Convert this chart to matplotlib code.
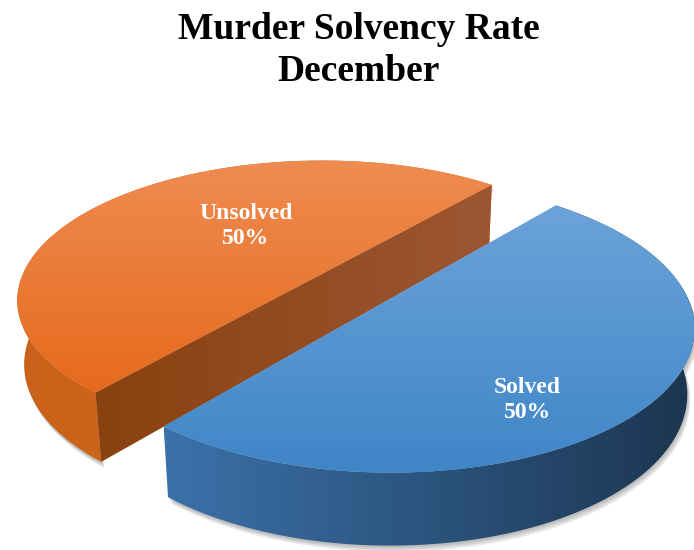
import numpy as np
import matplotlib
matplotlib.use("Agg")
import matplotlib.pyplot as plt
from matplotlib.patches import Polygon, PathPatch
from matplotlib.path import Path
from matplotlib.colors import LinearSegmentedColormap

labels = ["Solved", "Unsolved"]
values = [50, 50]
title = "Murder Solvency Rate\nDecember"

# (light, dark) pairs for top face, outer side and cut face of each slice
top_colors = [("#6CA3DA", "#3F86C7"), ("#EF8C52", "#E66A1C")]
side_colors = [("#3B72AA", "#1C3550"), ("#C9621A", "#E06B1E")]
cut_colors = [("#2B5A8A", "#1E3A5A"), ("#8A4110", "#9C5632")]
label_r = [0.74, 0.48]
label_turn = np.radians(-16)

# camera for the 3-D pie (pixel space)
cx, cy = 350.6, 288.8
scale = 300.3
elev = 0.478
dist = 5.456
start = 0.868 + np.pi
explode = 0.145
thick = 0.245
serif = ["Liberation Serif", "DejaVu Serif"]


def project(X, Y, Z):
    X, Y, Z = np.atleast_1d(X, Y, Z)
    up = Y*np.sin(elev) + Z*np.cos(elev)
    depth = dist + Y*np.cos(elev) - Z*np.sin(elev)
    return np.column_stack([cx + scale*dist*X/depth, cy - scale*dist*up/depth])


def ccw(p):
    # same winding for every piece so shared edges leave no seam
    x, y = p[:, 0], p[:, 1]
    area = np.sum(x*np.roll(y, -1) - np.roll(x, -1)*y)
    return p if area > 0 else p[::-1]


def gradient_fill(ax, polys, c1, c2, vertical=True, z=1):
    path = Path.make_compound_path(*[Path(np.vstack([ccw(p), ccw(p)[:1]]), closed=True) for p in polys])
    patch = PathPatch(path, facecolor="none", edgecolor="none")
    ax.add_patch(patch)
    allp = np.vstack(polys)
    (x0, y0), (x1, y1) = allp.min(0), allp.max(0)
    g = np.linspace(0, 1, 256)
    img = g[:, None] if vertical else g[None, :]
    cmap = LinearSegmentedColormap.from_list("g", [c1, c2])
    im = ax.imshow(img, cmap=cmap, extent=(x0, x1, y1, y0), origin="upper",
                   aspect="auto", zorder=z, interpolation="bilinear")
    im.set_clip_path(patch)


fig = plt.figure(figsize=(6.94, 5.5), dpi=100)
ax = fig.add_axes([0, 0, 1, 1])

total = sum(values)
edges = start + 2*np.pi*np.concatenate([[0], np.cumsum(values)])/total
cam = np.array([0.0, -dist*np.cos(elev)])

slices = []
for i in range(len(values)):
    a0, a1 = edges[i], edges[i+1]
    mid = (a0 + a1)/2
    off = explode*np.array([np.cos(mid), np.sin(mid)])
    slices.append((off[1], i, a0, a1, mid, off))
slices.sort(reverse=True)  # far slices first

z = 1
for _, i, a0, a1, mid, off in slices:
    th = np.linspace(a0, a1, 200)
    X = off[0] + np.cos(th)
    Y = off[1] + np.sin(th)
    top = project(X, Y, 0*X)
    bot = project(X, Y, 0*X - thick)
    ctop = project(off[0], off[1], 0.0)
    cbot = project(off[0], off[1], -thick)
    side = np.vstack([top, bot[::-1]])
    face = np.vstack([ctop, top])

    # soft shadow
    for dx, dy in [(1, 2), (2, 4), (3, 6)]:
        ax.add_patch(Polygon(np.vstack([side, face]) + [dx, dy], closed=True,
                             facecolor="#404040", edgecolor="none", alpha=0.13, zorder=z))
    z += 1
    gradient_fill(ax, [side], *side_colors[i], vertical=False, z=z)
    z += 1

    # radial cut faces, only those turned to the camera
    quads = []
    for a, sgn in [(a0, 1), (a1, -1)]:
        n = sgn*np.array([np.sin(a), -np.cos(a)])
        p = off + 0.5*np.array([np.cos(a), np.sin(a)])
        if n @ (cam - p) > 0:
            et = project(off[0] + np.cos(a), off[1] + np.sin(a), 0.0)
            eb = project(off[0] + np.cos(a), off[1] + np.sin(a), -thick)
            quads.append(np.vstack([ctop, et, eb, cbot]))
    if quads:
        gradient_fill(ax, quads, *cut_colors[i], vertical=False, z=z)
        z += 1

    gradient_fill(ax, [face], *top_colors[i], vertical=True, z=z)
    z += 1

    ang = mid + label_turn
    pos = project(off[0] + label_r[i]*np.cos(ang), off[1] + label_r[i]*np.sin(ang), 0.0)[0]
    pct = values[i]/total*100
    ax.text(pos[0], pos[1], f"{labels[i]}\n{pct:.0f}%", ha="center", va="center",
            color="white", fontsize=17, fontweight="bold", family=serif,
            linespacing=1.25, zorder=50)

ax.set_xlim(0, 694)
ax.set_ylim(550, 0)
ax.axis("off")

fig.text(0.517, 0.978, title, ha="center", va="top", fontsize=27,
         fontweight="bold", family=serif, linespacing=1.27)

fig.savefig("out.png", dpi=100)
